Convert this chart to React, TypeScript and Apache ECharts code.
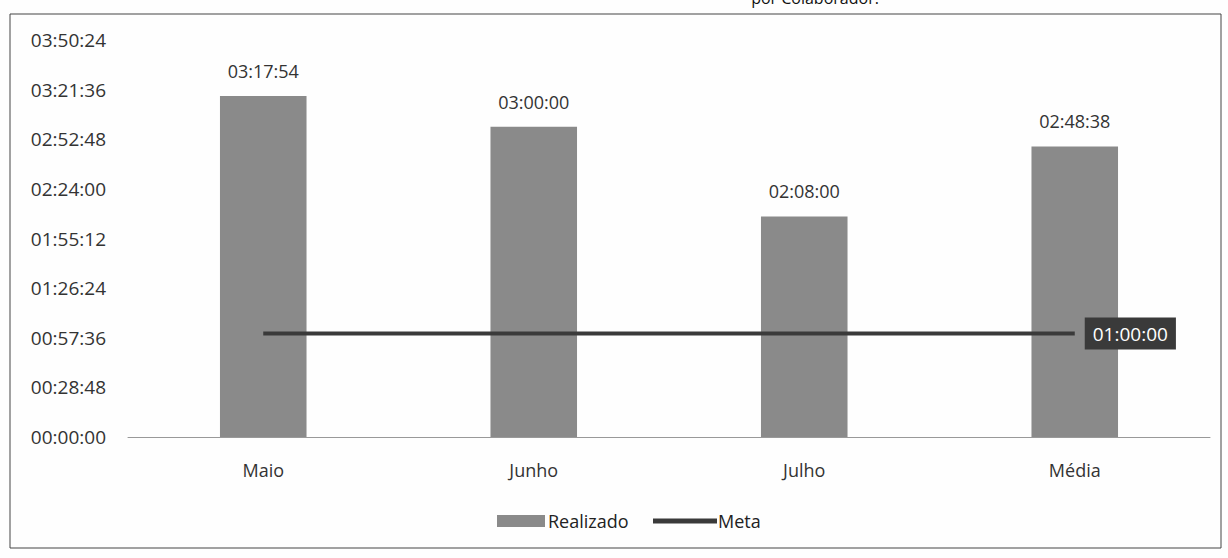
import React, { useEffect, useRef } from "react";
import * as echarts from "echarts";

const categories = ["Maio", "Junho", "Julho", "Média"];
// values in seconds
const realizado = [11874, 10800, 7680, 10118]; // 03:17:54, 03:00:00, 02:08:00, 02:48:38
const meta = [3600, 3600, 3600, 3600]; // 01:00:00
const yMax = 13824; // 03:50:24
const yInterval = 1728; // 00:28:48

const pad = (n: number) => String(n).padStart(2, "0");
const fmt = (s: number) => {
  const h = Math.floor(s / 3600);
  const m = Math.floor((s % 3600) / 60);
  const sec = Math.round(s % 60);
  return `${pad(h)}:${pad(m)}:${pad(sec)}`;
};

const FONT = "'Open Sans', 'Liberation Sans', sans-serif";

export default function App() {
  const ref = useRef<HTMLDivElement>(null);
  useEffect(() => {
    if (!ref.current) return;
    const chart = echarts.init(ref.current, null, { renderer: "svg" });
    chart.setOption({
      animation: false,
      backgroundColor: "#fefefe",
      textStyle: { fontFamily: FONT },
      graphic: [
        {
          type: "rect",
          shape: { x: 10, y: 14, width: 1211, height: 534 },
          style: { fill: "none", stroke: "#444", lineWidth: 1 },
          silent: true,
        },
        {
          type: "text",
          x: 815,
          y: -10,
          style: {
            text: "por Colaborador.",
            fill: "#111",
            font: `16px ${FONT}`,
            align: "center",
          },
          silent: true,
        },
      ],
      grid: { left: 128, right: 18, top: 40, bottom: 121 },
      legend: [
        {
          top: 507,
          left: 492,
          itemWidth: 48,
          itemHeight: 12,
          itemGap: 4,
          textStyle: { fontSize: 18, color: "#222", fontFamily: FONT, padding: [0, 0, 0, -2] },
          data: [{ name: "Realizado", icon: "rect" }],
        },
        {
          top: 507,
          left: 648,
          itemWidth: 64,
          itemHeight: 5,
          textStyle: { fontSize: 18, color: "#222", fontFamily: FONT, padding: [0, 0, 0, -4] },
          data: [{ name: "Meta", icon: "rect" }],
        },
      ],
      xAxis: {
        type: "category",
        data: categories,
        axisLine: { lineStyle: { color: "#999", width: 1 } },
        axisTick: { show: false },
        axisLabel: { fontSize: 18, color: "#333", margin: 24, fontFamily: FONT },
      },
      yAxis: {
        type: "value",
        min: 0,
        max: yMax,
        interval: yInterval,
        splitLine: { show: false },
        axisLine: { show: false },
        axisTick: { show: false },
        axisLabel: {
          fontSize: 19,
          color: "#333",
          margin: 22,
          fontFamily: FONT,
          formatter: (v: number) => fmt(v),
        },
      },
      series: [
        {
          name: "Realizado",
          type: "bar",
          data: realizado,
          barWidth: "32%",
          itemStyle: { color: "#8a8a8a" },
          label: {
            show: true,
            position: "top",
            distance: 16,
            fontSize: 18,
            color: "#333",
            fontFamily: FONT,
            formatter: (p: any) => fmt(p.value),
          },
        },
        {
          name: "Meta",
          type: "line",
          data: meta,
          symbol: "none",
          lineStyle: { color: "#3a3a3a", width: 4 },
          itemStyle: { color: "#3a3a3a" },
          endLabel: {
            show: true,
            distance: 10,
            formatter: (p: any) => fmt(p.value),
            color: "#fff",
            backgroundColor: "#3a3a3a",
            padding: [7, 8, 6, 8],
            fontSize: 19,
            fontFamily: FONT,
          },
        },
      ],
    });
    return () => chart.dispose();
  }, []);
  return (
    <div
      ref={ref}
      style={{ position: "absolute", left: 0, top: 0, width: 1228, height: 558 }}
    />
  );
}
